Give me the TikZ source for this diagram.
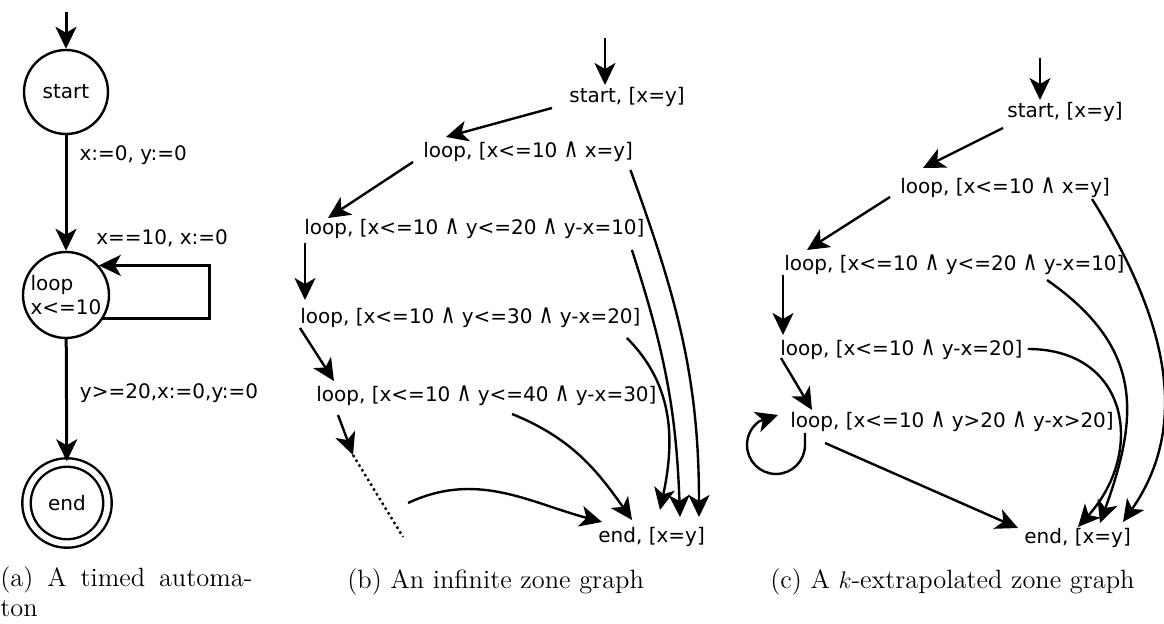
\documentclass[tikz,border=0pt]{standalone}
\usepackage{graphicx}
\usepackage{fontspec}
\newfontfamily\dvs{DejaVu Sans}
\newcommand\zand{\scalebox{1}[1.35]{∧}}
\usetikzlibrary{arrows.meta}

\begin{document}
\begin{tikzpicture}[x=0.5pt, y=-0.5pt, font=\dvs\fontsize{10}{12}\selectfont,
  >={Stealth[length=11pt,width=10.5pt,inset=3pt]},
  edge/.style={->, line width=1.2pt},
  zone/.style={anchor=west, inner sep=1pt},
  lab/.style={anchor=west, inner sep=1pt},
  loc/.style={circle, draw, line width=1.2pt, inner sep=0pt, minimum size=42pt},
  capt/.style={font=\rmfamily\fontsize{13.2}{15}\selectfont, inner sep=0pt}]
  \useasboundingbox (0,0) rectangle (1164,624);

  % (a) the automaton
  \coordinate (iA) at (66,12);
  \node[loc] (sA) at (66,92) {start};
  \node[loc, minimum size=43pt, align=left] (lA) at (66,295) {loop\\x<=10};
  \node[loc, minimum size=40.5pt, double, double distance=3pt] (eA) at (67,503) {end};
  \draw[edge, line width=1.5pt] (iA) -- (sA);
  \draw[edge, line width=1.5pt] (sA) -- node[lab, pos=.17, xshift=5pt] {x:=0, y:=0} (lA);
  \draw[edge, line width=1.5pt] (lA.-32) -- ++(106,0) |- node[pos=.75, above=5pt, xshift=4pt] {x==10, x:=0} (lA.42);
  \draw[edge, line width=1.5pt] (lA) -- node[lab, pos=.44, xshift=5pt] {y>=20,x:=0,y:=0} (eA);
  \node[capt, anchor=north west, text width=126pt, align=justify] (cpA) at (0,566) {(a) A timed automa-\linebreak ton};

  % (b) infinite zone graph
  \node[zone] (bS) at (567,97) {start, [x=y]};
  \node[zone] (bL1) at (421,152) {loop, [x<=10 \zand{} x=y]};
  \node[zone] (bL2) at (302,229) {loop, [x<=10 \zand{} y<=20 \zand{} y-x=10]};
  \node[zone] (bL3) at (298,318) {loop, [x<=10 \zand{} y<=30 \zand{} y-x=20]};
  \node[zone] (bL4) at (314,396) {loop, [x<=10 \zand{} y<=40 \zand{} y-x=30]};
  \node[zone] (bE) at (596,537) {end, [x=y]};
  \coordinate (bI) at (605,38);
  \coordinate (bD1) at (353,455);
  \coordinate (bD2) at (403,537);
  \coordinate (bD3) at (408,503);
  \draw[edge] (bI) -- ([shift={(38,-12)}]bS.west);
  \draw[edge] ([shift={(-15,11)}]bS.west) -- ([shift={(25,-15)}]bL1.west);
  \draw[edge] ([shift={(-8,10)}]bL1.west) -- ([shift={(26,-11)}]bL2.west);
  \draw[edge] ([shift={(3,14)}]bL2.west) -- ([shift={(7,-18)}]bL3.west);
  \draw[edge] ([shift={(2,10)}]bL3.west) -- ([shift={(20,-15)}]bL4.west);
  \draw[edge] ([shift={(24,19)}]bL4.west) -- (bD1);
  \draw[line width=1.2pt, dash pattern=on 1.2pt off 1.6pt] (bD1) -- (bD2);
  \draw[edge] (bD3) to[out=25, in=165] ([shift={(6,-15)}]bE.west);
  \draw[edge] ([shift={(198,18)}]bL4.west) to[out=-22, in=125] ([shift={(36,-17)}]bE.west);
  \draw[edge] ([shift={(-16,20)}]bL3.east) to[out=-45, in=78] ([shift={(64,-27)}]bE.west);
  \draw[edge] ([shift={(-15,21)}]bL2.east) to[out=-72, in=92] ([shift={(84,-20)}]bE.west);
  \draw[edge] ([shift={(-5,18)}]bL1.east) to[out=-70, in=90] ([shift={(103,-20)}]bE.west);
  \node[capt, anchor=west] (cpB) at (347,582) {(b) An infinite zone graph};

  % (c) k-extrapolated zone graph
  \node[zone] (cS) at (1005,112) {start, [x=y]};
  \node[zone] (cL1) at (898,188) {loop, [x<=10 \zand{} x=y]};
  \node[zone] (cL2) at (782,265) {loop, [x<=10 \zand{} y<=20 \zand{} y-x=10]};
  \node[zone] (cL3) at (778,350) {loop, [x<=10 \zand{} y-x=20]};
  \node[zone] (cL4) at (788,422) {loop, [x<=10 \zand{} y>20 \zand{} y-x>20]};
  \node[zone] (cE) at (1022,538) {end, [x=y]};
  \coordinate (cI) at (1040,58);
  \draw[edge] (cI) -- ([shift={(35,-12)}]cS.west);
  \draw[edge] ([shift={(-2,16)}]cS.west) -- ([shift={(25,-20)}]cL1.west);
  \draw[edge] ([shift={(-8,9)}]cL1.west) -- ([shift={(25,-15)}]cL2.west);
  \draw[edge] ([shift={(1,10)}]cL2.west) -- ([shift={(5,-15)}]cL3.west);
  \draw[edge] ([shift={(3,8)}]cL3.west) -- ([shift={(24,-12)}]cL4.west);
  \draw[edge] ([shift={(17,11)}]cL4.west) -- ++(0,12) arc[start angle=0, end angle=-235, radius=14.5pt]
    -- ([shift={(-10,-7)}]cL4.west);
  \draw[edge] ([shift={(37,21)}]cL4.west) -- ([shift={(-4,-10)}]cE.west);
  \draw[edge] ([shift={(3,-1)}]cL3.east) to[out=0, in=48, looseness=1.4] ([shift={(56,-11)}]cE.west);
  \draw[edge] ([shift={(265,15)}]cL2.west) to[out=-35, in=70, looseness=1.2] ([shift={(78,-15)}]cE.west);
  \draw[edge] ([shift={(194,11)}]cL1.west) to[out=-58, in=55] ([shift={(101,-16)}]cE.west);
  \node[capt, anchor=west] (cpC) at (770,582) {(c) A $k$-extrapolated zone graph};
\end{tikzpicture}
\end{document}
